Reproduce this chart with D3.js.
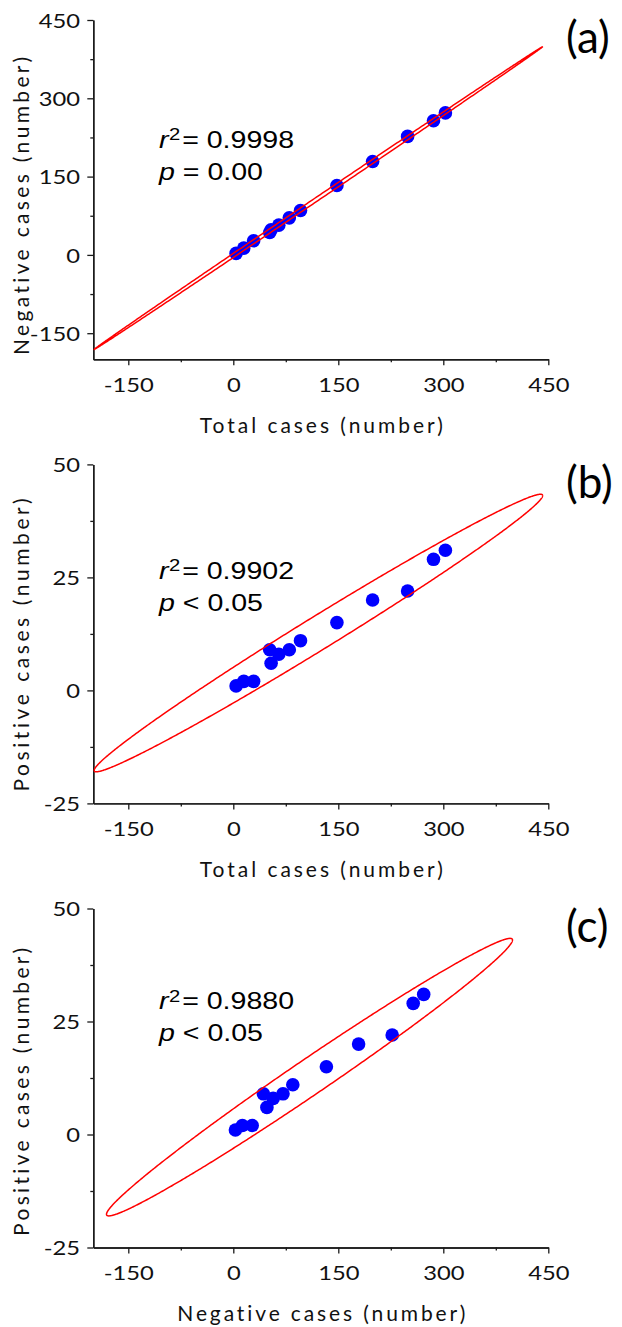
<!DOCTYPE html>
<html><head><meta charset="utf-8">
<script src="https://cdn.jsdelivr.net/npm/d3@7"></script>
<style>body{margin:0;background:#fff} text{font-variant-ligatures:none;font-feature-settings:"liga" 0}</style>
</head><body><svg id="chart" width="622" height="1327" xmlns="http://www.w3.org/2000/svg"></svg>
<script>
// ---- data ----
const totalCases    = [4, 15, 29, 52, 54, 65, 80, 96, 148, 199, 249, 286, 303];
const negativeCases = [3, 13, 27, 43, 48, 57, 71, 85, 133, 179, 227, 257, 272];
const positiveCases = [1, 2, 2, 9, 6, 8, 9, 11, 15, 20, 22, 29, 31];
const xTicks = [-150, 0, 150, 300, 450];
const xMinorTicks = [-75, 75, 225, 375];
const yTicksA = [-150, 0, 150, 300, 450];
const yMinorTicksA = [-75, 75, 225, 375];
const yTicksBC = [-25, 0, 25, 50];
const yMinorTicksBC = [-12.5, 12.5, 37.5];
const panelLabels = ["(a)", "(b)", "(c)"];
const r2Values = ["0.9998", "0.9902", "0.9880"];
const pTexts = [" = 0.00", " < 0.05", " < 0.05"];
const xTitles = ["Total cases (number)", "Total cases (number)", "Negative cases (number)"];
const yTitles = ["Negative cases (number)", "Positive cases (number)", "Positive cases (number)"];

// ---- layout ----
const panels = [
  {xs: totalCases, ys: negativeCases, yDomain: [-200, 450], yTicks: yTicksA, yMinor: yMinorTicksA,
   top: 20, bottom: 359.3, annY: 147.5, labY: 53.3, yTitleC: 206, yTitleLen: 298, xTitleLen: 243},
  {xs: totalCases, ys: positiveCases, yDomain: [-25, 50], yTicks: yTicksBC, yMinor: yMinorTicksBC,
   top: 464.4, bottom: 803.4, annY: 578.5, labY: 498, yTitleC: 645, yTitleLen: 293, xTitleLen: 243},
  {xs: negativeCases, ys: positiveCases, yDomain: [-25, 50], yTicks: yTicksBC, yMinor: yMinorTicksBC,
   top: 908.5, bottom: 1247.5, annY: 1009, labY: 942, yTitleC: 1092, yTitleLen: 288, xTitleLen: 288}
];
const left = 93.3, right = 548.3;
const tickFont = "Lato, 'Open Sans', sans-serif";
const sx = 1.25;

function predictionEllipse(xs, ys, conf) {
  const n = xs.length;
  const mx = d3.mean(xs), my = d3.mean(ys);
  let sxx = 0, syy = 0, sxy = 0;
  for (let i = 0; i < n; i++) {
    sxx += (xs[i]-mx)**2; syy += (ys[i]-my)**2; sxy += (xs[i]-mx)*(ys[i]-my);
  }
  sxx /= (n-1); syy /= (n-1); sxy /= (n-1);
  const F = ((n-2)/2) * (Math.pow(1-conf, -2/(n-2)) - 1);
  const k = Math.sqrt(2*(n+1)*(n-1)/(n*(n-2)) * F);
  const a = Math.sqrt(sxx), b = sxy / a, c = Math.sqrt(Math.max(syy - b*b, 0));
  const pts = [];
  for (let i = 0; i <= 720; i++) {
    const t = i / 720 * 2 * Math.PI;
    pts.push([mx + k*a*Math.cos(t), my + k*(b*Math.cos(t) + c*Math.sin(t))]);
  }
  return pts;
}

const svg = d3.select("#chart");
svg.append("rect").attr("width", 622).attr("height", 1327).attr("fill", "#fff");

panels.forEach((P, i) => {
  const x = d3.scaleLinear().domain([-200, 450]).range([left, right]);
  const y = d3.scaleLinear().domain(P.yDomain).range([P.bottom, P.top]);
  const g = svg.append("g");

  const styleAxis = sel => {
    sel.selectAll("path.domain").attr("stroke", "#1a1a1a").attr("stroke-width", 1.4);
    sel.selectAll(".tick line").attr("stroke", "#1a1a1a").attr("stroke-width", 1.3);
  };
  g.append("g").attr("transform", `translate(0,${P.bottom})`)
    .call(d3.axisBottom(x).tickValues(xMinorTicks).tickSize(3).tickSizeOuter(0).tickFormat(""))
    .call(styleAxis);
  const xa = g.append("g").attr("transform", `translate(0,${P.bottom})`)
    .call(d3.axisBottom(x).tickValues(xTicks).tickSize(6).tickSizeOuter(0).tickFormat(d => String(d)))
    .call(styleAxis);
  xa.selectAll(".tick text").attr("y", 32.4).attr("dy", 0)
    .attr("transform", `scale(${sx},1)`)
    .attr("font-family", tickFont).attr("font-size", 19).attr("fill", "#111");

  g.append("g").attr("transform", `translate(${left},0)`)
    .call(d3.axisLeft(y).tickValues(P.yMinor).tickSize(3).tickSizeOuter(0).tickFormat(""))
    .call(styleAxis);
  const ya = g.append("g").attr("transform", `translate(${left},0)`)
    .call(d3.axisLeft(y).tickValues(P.yTicks).tickSize(6).tickSizeOuter(0).tickFormat(d => String(d)))
    .call(styleAxis);
  ya.selectAll(".tick text").attr("x", -13.3 / sx).attr("dy", "0.38em")
    .attr("transform", `scale(${sx},1)`)
    .attr("font-family", tickFont).attr("font-size", 19).attr("fill", "#111");

  const cid = "clip" + i;
  svg.append("clipPath").attr("id", cid).append("rect")
    .attr("x", left).attr("y", P.top - 30).attr("width", right - left + 20).attr("height", P.bottom - P.top + 30);

  const plot = g.append("g").attr("clip-path", `url(#${cid})`);
  plot.selectAll("circle").data(d3.range(P.xs.length)).join("circle")
    .attr("cx", j => x(P.xs[j])).attr("cy", j => y(P.ys[j])).attr("r", 6.8)
    .attr("fill", "#0000ff");

  const ell = predictionEllipse(P.xs, P.ys, 0.95);
  plot.append("path").datum(ell)
    .attr("d", d3.line().x(d => x(d[0])).y(d => y(d[1])))
    .attr("fill", "none").attr("stroke", "#ff0000").attr("stroke-width", 1.5);

  // annotation
  const ann = g.append("g").attr("transform", `translate(159,${P.annY}) scale(1.19,1)`)
    .attr("font-family", "'Liberation Sans', Arial, sans-serif").attr("font-size", 24).attr("fill", "#000");
  const t1 = ann.append("text");
  t1.append("tspan").attr("font-style", "italic").text("r");
  t1.append("tspan").attr("font-size", 17).attr("dy", -7.5).attr("dx", 0.5).text("2");
  t1.append("tspan").attr("dy", 7.5).attr("dx", 1.5).text("= " + r2Values[i]);
  const t2 = ann.append("text").attr("y", 32.5);
  t2.append("tspan").attr("font-style", "italic").text("p");
  t2.append("tspan").text(pTexts[i]);

  // panel label
  g.append("text").attr("x", 566).attr("y", P.labY)
    .attr("font-family", tickFont).attr("font-size", 44).attr("fill", "#000").text(panelLabels[i]);

  // axis titles
  g.append("text").attr("x", (left + right) / 2 + 0.5).attr("y", P.bottom + 73.4)
    .attr("text-anchor", "middle").attr("font-family", tickFont).attr("font-size", 21).attr("fill", "#111")
    .attr("textLength", P.xTitleLen).attr("lengthAdjust", "spacing")
    .text(xTitles[i]);
  g.append("text").attr("transform", `translate(29,${P.yTitleC}) rotate(-90)`)
    .attr("text-anchor", "middle").attr("font-family", tickFont).attr("font-size", 21).attr("fill", "#111")
    .attr("textLength", P.yTitleLen).attr("lengthAdjust", "spacing")
    .text(yTitles[i]);
});
</script></body></html>
